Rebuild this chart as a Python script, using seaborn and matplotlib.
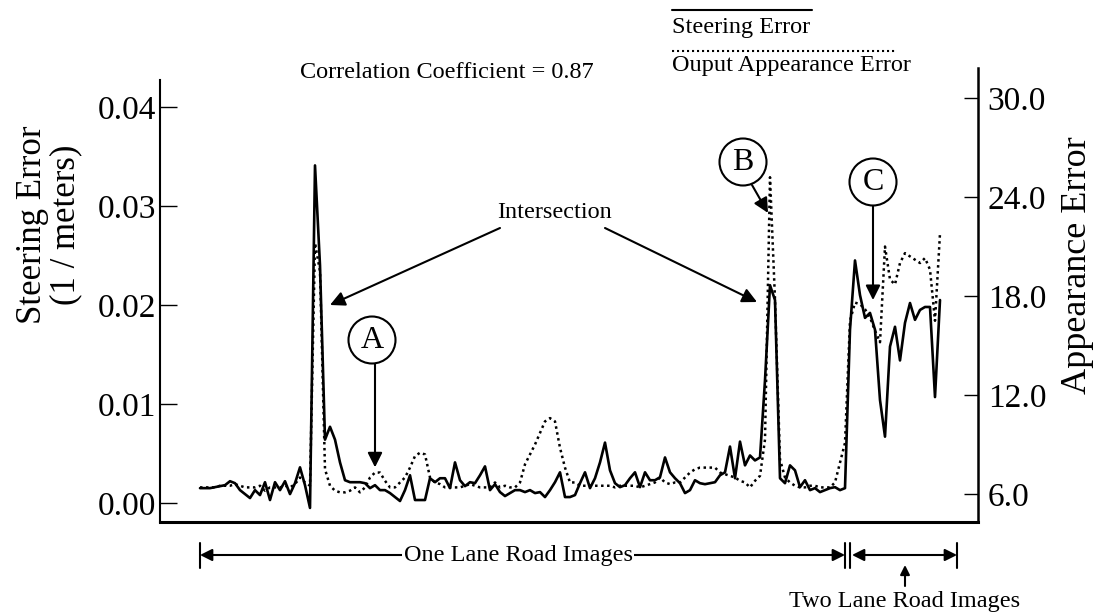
import numpy as np
import pandas as pd
import matplotlib
matplotlib.use("Agg")
import matplotlib.pyplot as plt
from matplotlib.lines import Line2D
from matplotlib.patches import Circle
import seaborn as sns

# Steering error (1/meters) and output appearance error, one value per test image
steering_error = [
    0.0015, 0.0015, 0.0015, 0.0016, 0.0017, 0.0018, 0.0022, 0.0020, 0.0013, 0.0009,
    0.0005, 0.0013, 0.0008, 0.0021, 0.0003, 0.0021, 0.0013, 0.0022, 0.0009, 0.0020,
    0.0036, 0.0018, -0.0005, 0.0341, 0.0240, 0.0064, 0.0077, 0.0064, 0.0041, 0.0023,
    0.0021, 0.0021, 0.0021, 0.0020, 0.0015, 0.0018, 0.0013, 0.0013, 0.0010, 0.0006,
    0.0002, 0.0013, 0.0028, 0.0003, 0.0003, 0.0003, 0.0025, 0.0021, 0.0025, 0.0025,
    0.0015, 0.0041, 0.0023, 0.0017, 0.0021, 0.0020, 0.0028, 0.0037, 0.0013, 0.0019,
    0.0011, 0.0007, 0.0010, 0.0013, 0.0013, 0.0011, 0.0013, 0.0010, 0.0011, 0.0006,
    0.0013, 0.0021, 0.0031, 0.0006, 0.0006, 0.0008, 0.0020, 0.0031, 0.0015, 0.0025,
    0.0041, 0.0061, 0.0033, 0.0020, 0.0016, 0.0018, 0.0025, 0.0031, 0.0016, 0.0031,
    0.0023, 0.0023, 0.0026, 0.0046, 0.0031, 0.0025, 0.0020, 0.0010, 0.0013, 0.0023,
    0.0020, 0.0019, 0.0020, 0.0021, 0.0028, 0.0031, 0.0057, 0.0025, 0.0062, 0.0038,
    0.0048, 0.0043, 0.0046, 0.0124, 0.0220, 0.0205, 0.0025, 0.0020, 0.0038, 0.0033,
    0.0016, 0.0023, 0.0013, 0.0015, 0.0011, 0.0013, 0.0015, 0.0016, 0.0013, 0.0015,
    0.0175, 0.0245, 0.0210, 0.0187, 0.0192, 0.0175, 0.0104, 0.0067, 0.0158, 0.0178,
    0.0144, 0.0182, 0.0202, 0.0185, 0.0195, 0.0198, 0.0198, 0.0107, 0.0205,
]
appearance_error = [
    6.4, 6.4, 6.4, 6.4, 6.5, 6.5, 6.5, 6.6, 6.5, 6.4,
    6.4, 6.4, 6.5, 6.2, 6.4, 6.4, 6.4, 6.5, 6.4, 6.6,
    7.0, 6.7, 6.5, 21.2, 19.5, 7.5, 6.5, 6.2, 6.1, 6.1,
    6.2, 6.4, 6.1, 6.4, 7.0, 7.3, 7.3, 6.8, 6.4, 6.4,
    6.7, 7.0, 7.6, 8.3, 8.5, 8.4, 7.0, 6.7, 6.6, 6.4,
    6.4, 6.4, 6.4, 6.5, 6.6, 6.5, 6.4, 6.4, 6.4, 6.7,
    6.4, 6.5, 6.4, 6.4, 6.7, 7.8, 8.4, 9.0, 9.7, 10.4,
    10.6, 10.4, 8.8, 7.6, 6.7, 6.7, 6.5, 6.5, 6.5, 6.5,
    6.5, 6.5, 6.5, 6.4, 6.5, 6.5, 6.5, 6.5, 6.4, 6.5,
    6.6, 6.7, 7.0, 6.7, 6.6, 6.7, 6.7, 7.0, 7.3, 7.5,
    7.6, 7.6, 7.6, 7.6, 7.3, 7.2, 7.1, 7.0, 6.8, 6.7,
    6.4, 6.8, 7.1, 9.3, 25.2, 17.8, 8.1, 7.0, 6.7, 6.5,
    6.4, 6.4, 6.5, 6.5, 6.4, 6.4, 6.4, 6.7, 7.9, 9.1,
    16.5, 17.6, 17.5, 17.2, 16.7, 15.9, 15.2, 21.0, 19.0, 18.7,
    20.0, 20.6, 20.4, 20.2, 20.0, 20.3, 19.6, 16.5, 21.8,
]
steering_ticks = [0.00, 0.01, 0.02, 0.03, 0.04]
steering_labels = ["0.00", "0.01", "0.02", "0.03", "0.04"]
appearance_ticks = [6.0, 12.0, 18.0, 24.0, 30.0]
appearance_labels = ["6.0", "12.0", "18.0", "24.0", "30.0"]

df = pd.DataFrame({
    "image": np.arange(len(steering_error)),
    "steering": steering_error,
    "appearance": appearance_error,
})

sns.set_style("white")
plt.rcParams["font.family"] = ["Liberation Serif", "DejaVu Serif"]
for key in ["text.color", "axes.labelcolor", "xtick.color", "ytick.color", "axes.edgecolor"]:
    plt.rcParams[key] = "black"

W, H = 1102, 616
TXT = 17.5
fig = plt.figure(figsize=(W / 100, H / 100), dpi=100)
ax = fig.add_axes([160 / W, 1 - 522 / H, 818 / W, 454 / H])
ax2 = ax.twinx()

sns.lineplot(data=df, x="image", y="steering", ax=ax, color="black", lw=1.9)
sns.lineplot(data=df, x="image", y="appearance", ax=ax2, color="black", lw=1.8,
             linestyle=(0, (1, 1.4)))

ax.set_xlim(-8, 155.6)
ax.set_ylim(-0.00192, 0.04394)
ax2.set_ylim(4.303, 31.82)
ax.set_xticks([])
ax.set_xlabel("")

ax.set_yticks(steering_ticks)
ax.set_yticklabels(steering_labels)
ax2.set_yticks(appearance_ticks)
ax2.set_yticklabels(appearance_labels)

ax.tick_params(axis="y", left=True, direction="in", length=12, width=1, labelsize=24, pad=3)
ax2.tick_params(axis="y", right=True, direction="in", length=10, width=1, labelsize=24, pad=7)

ax.spines["top"].set_visible(False)
ax.spines["right"].set_visible(False)
ax.spines["left"].set_linewidth(1.5)
ax.spines["left"].set_bounds(-0.00192, 0.0427)
ax.spines["bottom"].set_linewidth(2.2)
ax2.spines["top"].set_visible(False)
ax2.spines["left"].set_visible(False)
ax2.spines["bottom"].set_visible(False)
ax2.spines["right"].set_linewidth(1.8)

ax.set_ylabel("Steering Error\n(1 / meters)", fontsize=25, linespacing=1.0)
ax.yaxis.set_label_coords(-0.095, 0.654)
ax2.set_ylabel("Appearance Error", fontsize=26)
ax2.yaxis.set_label_coords(1.101, 0.566)


def px(x, y):
    return (x, H - y)


# legend and title text
fig.add_artist(Line2D([672 / W, 812 / W], [1 - 10 / H] * 2, color="black", lw=1.5,
                      transform=fig.transFigure))
fig.add_artist(Line2D([672 / W, 897 / W], [1 - 51 / H] * 2, color="black", lw=1.5,
                      linestyle=(0, (1, 1.4)), transform=fig.transFigure))
fig.text(672 / W, 1 - 27 / H, "Steering Error", fontsize=TXT, ha="left", va="center")
fig.text(672 / W, 1 - 65 / H, "Ouput Appearance Error", fontsize=TXT, ha="left", va="center")
fig.text(447 / W, 1 - 72 / H, "Correlation Coefficient = 0.87", fontsize=TXT,
         ha="center", va="center")

# intersection arrows
arrow = dict(arrowstyle="-|>", color="black", lw=1.5, mutation_scale=22, shrinkA=0, shrinkB=0)
fig.text(555 / W, 1 - 213 / H, "Intersection", fontsize=TXT, ha="center", va="center")
ax.annotate("", xy=(26, 0.0200), xycoords="data", xytext=px(500, 228),
            textcoords="figure pixels", arrowprops=arrow)
ax.annotate("", xy=(111.4, 0.0203), xycoords="data", xytext=px(605, 228),
            textcoords="figure pixels", arrowprops=arrow)

# circled markers
for letter, cx, cy in [("A", 372, 340), ("B", 743, 162), ("C", 873, 182)]:
    fig.add_artist(Circle((cx / 100, (H - cy) / 100), 0.235, fill=False, lw=1.5,
                          color="black", transform=fig.dpi_scale_trans))
    fig.text(cx / W, 1 - cy / H, letter, fontsize=23, ha="center", va="center")

ax.annotate("", xy=(35, 0.0036), xycoords="data", xytext=px(375, 364),
            textcoords="figure pixels", arrowprops=arrow)
ax.annotate("", xy=(113.6, 0.0293), xycoords="data", xytext=px(752, 185),
            textcoords="figure pixels", arrowprops=arrow)
ax.annotate("", xy=(134.6, 0.0205), xycoords="data", xytext=px(873, 206),
            textcoords="figure pixels", arrowprops=arrow)

# road type spans under the plot
span = dict(arrowstyle="<|-|>", color="black", lw=1.5, mutation_scale=18, shrinkA=0, shrinkB=0)
ax.annotate("", xy=px(845, 555), xycoords="figure pixels", xytext=px(200, 555),
            textcoords="figure pixels", arrowprops=span, annotation_clip=False)
ax.annotate("", xy=px(957, 555), xycoords="figure pixels", xytext=px(852, 555),
            textcoords="figure pixels", arrowprops=span, annotation_clip=False)
for bx in [200, 845, 850, 957]:
    fig.add_artist(Line2D([bx / W] * 2, [1 - 543 / H, 1 - 568 / H], color="black", lw=1.5,
                          transform=fig.transFigure))
fig.text(518 / W, 1 - 555 / H, "One Lane Road Images", fontsize=TXT, ha="center", va="center",
         bbox=dict(fc="white", ec="none", pad=1))
ax.annotate("", xy=px(905, 565), xycoords="figure pixels", xytext=px(905, 586),
            textcoords="figure pixels", arrowprops=dict(arrowstyle="-|>", color="black", lw=1.5,
                                                        mutation_scale=14, shrinkA=0, shrinkB=0),
            annotation_clip=False)
fig.text(905 / W, 1 - 601 / H, "Two Lane Road Images", fontsize=TXT, ha="center", va="center")

fig.savefig("out.png", dpi=100)
